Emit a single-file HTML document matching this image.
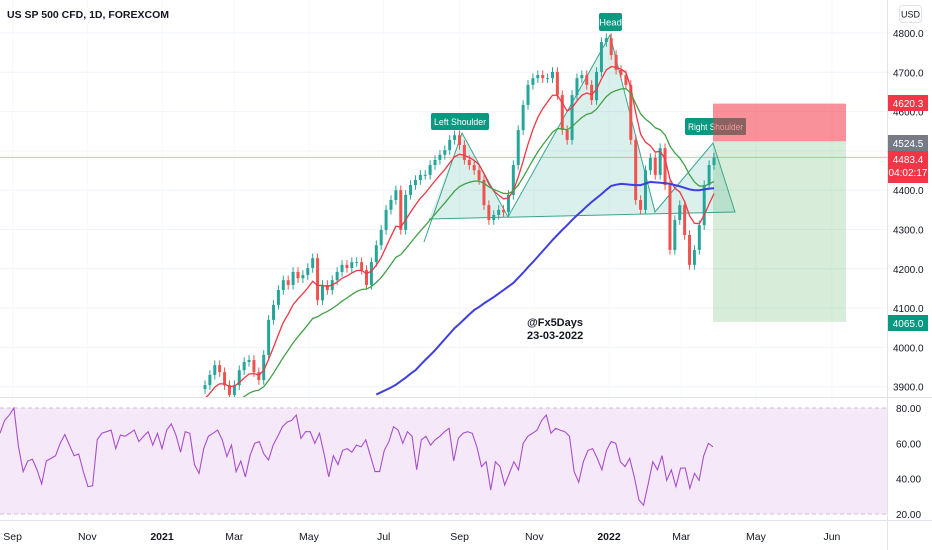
<!DOCTYPE html>
<html><head><meta charset="utf-8"><style>
html,body{margin:0;padding:0;background:#fff;}
body{width:932px;height:550px;overflow:hidden;font-family:"Liberation Sans",sans-serif;}
svg{display:block}
</style></head><body>
<svg id="chart" width="932" height="550" xmlns="http://www.w3.org/2000/svg"></svg>
<script>
const closes=[3904,3930,3955,3937,3904,3879,3904,3942,3963,3968,3937,3917,3981,4070,4108,4146,4171,4159,4192,4176,4184,4202,4227,4120,4159,4146,4171,4192,4210,4202,4217,4217,4197,4159,4217,4260,4299,4350,4375,4400,4299,4388,4413,4426,4439,4439,4464,4477,4490,4502,4528,4540,4515,4477,4464,4451,4426,4362,4324,4337,4350,4344,4388,4464,4553,4617,4668,4685,4693,4685,4685,4701,4642,4553,4528,4642,4685,4693,4668,4629,4701,4777,4787,4744,4706,4693,4668,4528,4375,4350,4451,4482,4439,4507,4413,4248,4324,4362,4286,4210,4248,4311,4413,4464,4483];
const ma200Start=35;
const ma200=[3880,3886,3892,3898,3905,3914,3923,3933,3942,3955,3968,3980,3993,4007,4021,4035,4049,4060,4072,4084,4095,4103,4112,4120,4128,4137,4146,4155,4164,4177,4190,4204,4217,4231,4245,4259,4273,4286,4299,4311,4324,4336,4347,4359,4370,4380,4390,4401,4411,4414,4416,4415,4414,4413,4413,4417,4421,4420,4419,4418,4416,4413,4410,4406,4402,4400,4400,4402,4404,4405];
const rsi=[65.7,73,76,80,58,44,50,51,45,37,50,51.5,53,60,65,59,53,54,44,35.5,36,62,65.7,66.6,67.5,57,64.7,64,65.7,67.5,61,64,66.6,59,65.7,57,67.5,71,64.7,55,66.6,65.7,48,43,57,64,65.7,67.5,62,52.5,59,44,50,41,53,60,61,54,50.6,59,64,69.4,72,73,76,62.8,66.6,66.6,60,65.7,54,41,53,48,56,57,55,59,58,62,53,44,
44,56,61,69.4,67.5,60,66.6,64,45,62,64,59,62,64,66.6,68.5,50,62.8,65.7,66.6,65.7,58,46.8,49.6,33.6,49.6,46.8,36.4,43,49.6,45,60,64,65.7,67.5,73,76,65.7,68.5,67.5,66.6,64,44,38,49.6,56,57,51.5,45,56,61,60,49.6,46.8,51.5,41,28,25,37,49.6,45,53,39,45,35.5,46,46,34.5,43,39,53,60,58];
const priceTicks=[4800,4700,4600,4500,4400,4300,4200,4100,4000,3900];
const tickLabels=["Sep","Nov","2021","Mar","May","Jul","Sep","Nov","2022","Mar","May","Jun"];
const tickDays=[-122,-61,0,59,120,181,243,304,365,424,485,547];
const rsiTicks=[80,60,40,20];

const NS="http://www.w3.org/2000/svg";
const svg=document.getElementById('chart');
function el(tag,attrs,parent){const e=document.createElementNS(NS,tag);for(const k in attrs)e.setAttribute(k,attrs[k]);(parent||svg).appendChild(e);return e;}
const yP=p=>33+(4800-p)*0.393;
const xC=i=>205+i*(509/(closes.length-1));
const yR=v=>408+(80-v)*1.767;
const xR=i=>i*713/(rsi.length-1);
const xD=d=>162+d*1.2247;

priceTicks.forEach(p=>{const g=el('line',{x1:0,x2:887,y1:yP(p),y2:yP(p),stroke:'#f0f3fa','stroke-width':1});

});
tickDays.forEach(d=>{const g=el('line',{x1:xD(d),x2:xD(d),y1:0,y2:520,stroke:'#f7f8fa','stroke-width':1});

});

const rb=el('rect',{x:0,y:yR(80),width:887,height:yR(20)-yR(80),fill:'#f5e9f9'});


[80,20].forEach(v=>{const l=el('line',{x1:0,x2:887,y1:yR(v),y2:yR(v),stroke:'#cbbfd2','stroke-dasharray':'4,3'});

});
const rl=el('polyline',{points:rsi.map((v,i)=>xR(i)+','+yR(v)).join(' '),fill:'none',stroke:'#a94fcc','stroke-width':1.1});



el('line',{x1:0,x2:932,y1:397.5,y2:397.5,stroke:'#e0e3eb',});
el('line',{x1:0,x2:932,y1:520.5,y2:520.5,stroke:'#e0e3eb',});
el('line',{x1:887.5,x2:887.5,y1:0,y2:550,stroke:'#e0e3eb',});

const defs=el('defs',{});
const cp=el('clipPath',{id:'pc'},defs);el('rect',{x:0,y:0,width:887,height:397},cp);
const pane=el('g',{'clip-path':'url(#pc)',});

el('line',{x1:0,x2:887,y1:yP(4483.4),y2:yP(4483.4),stroke:'#f7b5b4','stroke-width':1,},pane);

el('rect',{x:713,y:yP(4620.3),width:133,height:yP(4524.5)-yP(4620.3),fill:'rgba(242,54,69,0.55)',},pane);
el('rect',{x:713,y:yP(4524.5),width:133,height:yP(4065)-yP(4524.5),fill:'rgba(76,175,80,0.22)',},pane);

el('polygon',{points:'429,219 462,133 508,217 610,35 655,212 713,143 735,212',fill:'rgba(8,153,129,0.15)',stroke:'none',},pane);
el('polyline',{points:'424,242 462,133 508,217 610,35 655,212 713,143 735,212 429,219',fill:'none',stroke:'#3aa58e','stroke-width':1,},pane);

closes.forEach((c,i)=>{
  const o=i?closes[i-1]:c-10;const up=c>=o;const col=up?'#26a69a':'#ef5350';const x=xC(i);
  const w=el('line',{x1:x,x2:x,y1:yP(Math.max(o,c)+12),y2:yP(Math.min(o,c)-12),stroke:col,'stroke-width':1},pane);
  
  
  const b=el('rect',{x:x-1.5,y:yP(Math.max(o,c)),width:3,height:Math.max(1,Math.abs(yP(o)-yP(c))),fill:col},pane);
  
  
});
function ema(arr,n,seed){const k=2/(n+1);let e=seed;return arr.map(v=>e=v*k+e*(1-k));}
const red=ema(closes,8,3860),green=ema(closes,20,3800);
const rm=el('polyline',{points:red.map((v,i)=>xC(i)+','+yP(v)).join(' '),fill:'none',stroke:'#f23645','stroke-width':1.3},pane);


const gm=el('polyline',{points:green.map((v,i)=>xC(i)+','+yP(v)).join(' '),fill:'none',stroke:'#43a047','stroke-width':1.3},pane);


const bm=el('polyline',{points:ma200.map((v,i)=>xC(i+ma200Start)+','+yP(v)).join(' '),fill:'none',stroke:'#3f3fe0','stroke-width':2},pane);



function tag(x,y,w,h,text,name,bg){const g=el('g',{},pane);
el('rect',{x:x,y:y,width:w,height:h,rx:2,fill:bg},g);
const a={x:x+w/2,y:y+h/2+3.5,'text-anchor':'middle','font-size':9.5,fill:'#fff','font-family':'Liberation Sans, sans-serif'};
if(w>30){a.textLength=w-6;a.lengthAdjust='spacingAndGlyphs';}
const t=el('text',a,g);t.textContent=text;}
tag(599,13,23,18,'Head','head-label','#089981');
tag(431,113,58,17,'Left Shoulder','left-shoulder-label','#089981');
tag(685,118,61,17,'Right Shoulder','right-shoulder-label','#089981');
el('rect',{x:713,y:118,width:33,height:17,fill:'rgba(242,54,69,0.55)',},pane);
const w1=el('text',{x:527,y:326,'font-size':11,'font-weight':'bold',fill:'#131722'},pane);w1.textContent='@Fx5Days';

const w2=el('text',{x:527,y:339,'font-size':11,'font-weight':'bold',fill:'#131722'},pane);w2.textContent='23-03-2022';


const tt=el('text',{x:7,y:18,'font-size':10.5,'font-weight':'bold',fill:'#131722'});tt.textContent='US SP 500 CFD, 1D, FOREXCOM';


priceTicks.forEach(p=>{const t=el('text',{x:893,y:yP(p)+4,'font-size':10,fill:'#131722'});t.textContent=p.toFixed(1);
});
const usd=el('g',{});
el('rect',{x:899.5,y:5.5,width:22,height:17,rx:3,fill:'#fff',stroke:'#e0e3eb'},usd);
const ut=el('text',{x:910.5,y:17.5,'text-anchor':'middle','font-size':9,fill:'#131722'},usd);ut.textContent='USD';
function pbox(y,h,bg,lines,name){const g=el('g',{});
el('rect',{x:888,y:y,width:40,height:h,fill:bg},g);
lines.forEach((s,k)=>{const t=el('text',{x:908,y:y+12+k*13,'text-anchor':'middle','font-size':10,fill:'#fff'},g);t.textContent=s;});}
pbox(95,16,'#f23645',['4620.3'],'stop-price-label');
pbox(135,16,'#787b86',['4524.5'],'entry-price-label');
pbox(151,32,'#f23645',['4483.4','04:02:17'],'last-price-label');
pbox(315,16,'#089981',['4065.0'],'target-price-label');
rsiTicks.forEach(v=>{const t=el('text',{x:896,y:yR(v)+4,'font-size':10,fill:'#131722'});t.textContent=v.toFixed(2);
});

tickLabels.forEach((s,i)=>{const t=el('text',{x:xD(tickDays[i]),y:540,'text-anchor':'middle','font-size':10.5,fill:'#131722','font-weight':/^\d+$/.test(s)?'bold':'normal'});t.textContent=s;
});
</script>
</body></html>
